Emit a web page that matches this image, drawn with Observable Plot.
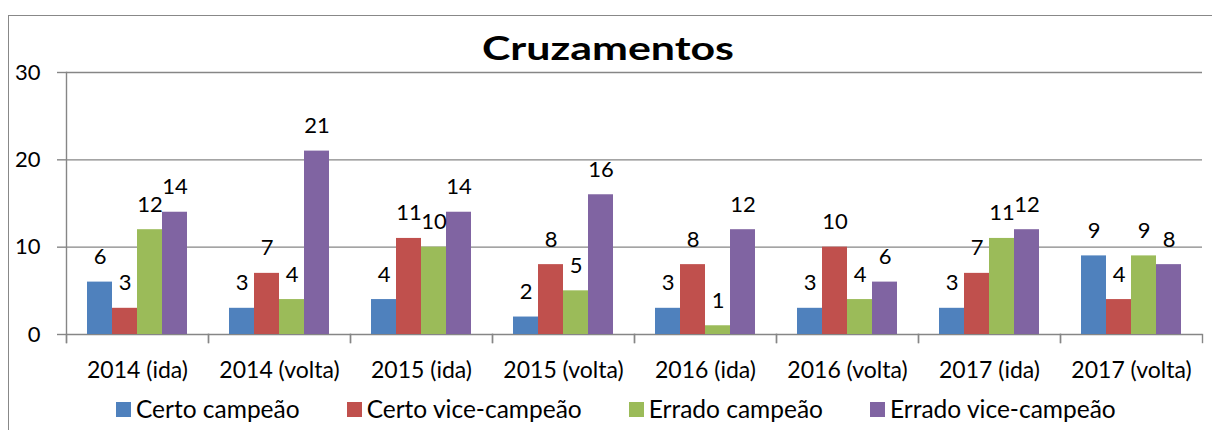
<!DOCTYPE html>
<html>
<head>
<meta charset="utf-8">
<script src="https://cdn.jsdelivr.net/npm/d3@7"></script>
<script src="https://cdn.jsdelivr.net/npm/@observablehq/plot@0.6"></script>
<style>
  html, body { margin: 0; padding: 0; background: #fff; }
  #wrap { position: relative; width: 1212px; height: 430px; overflow: hidden; font-family: Lato, "Open Sans", sans-serif; color: #000; }
  #border { position: absolute; left: 8px; top: 15px; width: 1300px; height: 500px; border: 1.5px solid #888; box-sizing: border-box; }
  #title { position: absolute; left: 608px; top: 28px; transform: translateX(-50%) scaleX(1.34); font-weight: bold; font-size: 32px; line-height: 40px; white-space: nowrap; }
  #legend { position: absolute; left: 116px; top: 394px; display: flex; gap: 47px; font-size: 24.5px; line-height: 30px; white-space: nowrap; }
  #legend .item { display: flex; align-items: center; }
  #legend .sw { width: 15px; height: 15px; margin-right: 5px; }
  #chart { position: absolute; left: 0; top: 0; }
</style>
</head>
<body>
<div id="wrap">
  <div id="border"></div>
  <div id="chart"></div>
  <div id="title"></div>
  <div id="legend"></div>
</div>
<script>
const title = "Cruzamentos";
const categories = ["2014 (ida)", "2014 (volta)", "2015 (ida)", "2015 (volta)", "2016 (ida)", "2016 (volta)", "2017 (ida)", "2017 (volta)"];
const series = ["Certo campeão", "Certo vice-campeão", "Errado campeão", "Errado vice-campeão"];
const colors = ["#4F81BD", "#C0504D", "#9BBB59", "#8064A2"];
const certoCampeao     = [6, 3, 4, 2, 3, 3, 3, 9];
const certoVice        = [3, 7, 11, 8, 8, 10, 7, 4];
const erradoCampeao    = [12, 4, 10, 5, 1, 4, 11, 9];
const erradoVice       = [14, 21, 14, 16, 12, 6, 12, 8];
const yTicks = [0, 10, 20, 30];

const seriesValues = [certoCampeao, certoVice, erradoCampeao, erradoVice];
const data = [];
categories.forEach((c, i) => {
  series.forEach((s, j) => data.push({cat: c, series: s, value: seriesValues[j][i]}));
});

const gridColor = "#868686";
const font = "Lato, 'Open Sans', sans-serif";

const chart = Plot.plot({
  width: 1212,
  height: 430,
  marginLeft: 64,
  marginRight: 8,
  marginTop: 72,
  marginBottom: 96,
  style: {fontFamily: font, color: "#000", background: "transparent"},
  fx: {domain: categories, paddingInner: 0, paddingOuter: 0, label: null},
  x: {domain: series, paddingInner: 0, paddingOuter: 0.74, axis: null},
  y: {domain: [0, 30], label: null},
  color: {domain: series, range: colors},
  marks: [
    Plot.ruleY(yTicks, {stroke: gridColor, strokeWidth: 1.4, strokeOpacity: 1}),
    Plot.frame({anchor: "left", stroke: gridColor, strokeWidth: 1.4, insetTop: 262, insetBottom: -8}),
    Plot.frame({anchor: "right", stroke: gridColor, strokeWidth: 1.4, insetTop: 262, insetBottom: -8}),
    Plot.frame({anchor: "left", stroke: gridColor, strokeWidth: 1.4, insetBottom: -8, fx: () => categories[0]}),
    Plot.axisY({ticks: yTicks, tickSize: 9, tickPadding: 17, fontSize: 22, stroke: gridColor, strokeWidth: 1.4, label: null}),
    Plot.axisFx({anchor: "bottom", tickSize: 0, tickPadding: 27, fontSize: 23, label: null}),
    Plot.barY(data, {fx: "cat", x: "series", y: "value", fill: "series"}),
    Plot.text(data, {fx: "cat", x: "series", y: "value", text: d => String(d.value), dy: -25, fontSize: 22, fill: "#000"})
  ]
});
document.getElementById("chart").appendChild(chart);
document.getElementById("title").textContent = title;

const legend = document.getElementById("legend");
series.forEach((s, i) => {
  const item = document.createElement("div");
  item.className = "item";
  const sw = document.createElement("span");
  sw.className = "sw";
  sw.style.background = colors[i];
  const t = document.createElement("span");
  t.textContent = s;
  item.appendChild(sw);
  item.appendChild(t);
  legend.appendChild(item);
});
</script>
</body>
</html>
